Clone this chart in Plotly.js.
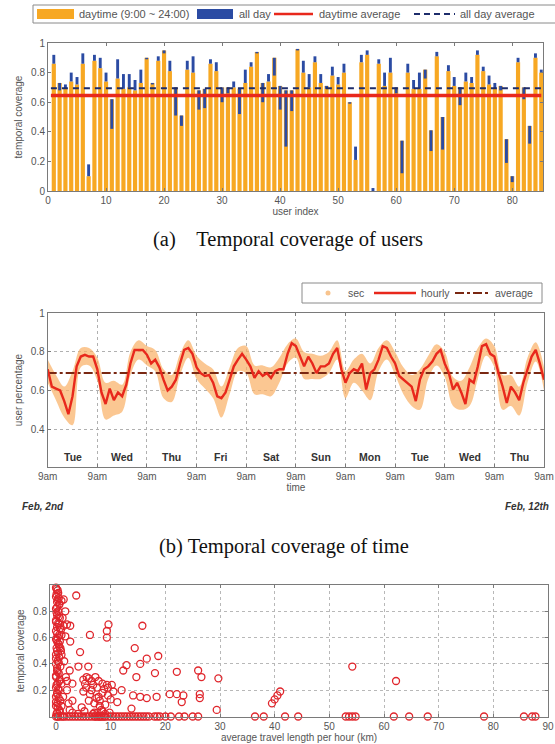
<!DOCTYPE html>
<html>
<head>
<meta charset="utf-8">
<script src="https://cdn.plot.ly/plotly-3.0.1.min.js"></script>
<style>
html,body{margin:0;padding:0;background:#fff;}
#chart{width:555px;height:744px;}
</style>
</head>
<body>
<div id="chart"></div>
<script>
// ---------- (a) temporal coverage of users ----------
const userIndex = [1,2,3,4,5,6,7,8,9,10,11,12,13,14,15,16,17,18,19,20,21,22,23,24,25,26,27,28,29,30,31,32,33,34,35,36,37,38,39,40,41,42,43,44,45,46,47,48,49,50,51,52,53,54,55,56,57,58,59,60,61,62,63,64,65,66,67,68,69,70,71,72,73,74,75,76,77,78,79,80,81,82,83,84,85];
const daytimeCoverage = [0.86,0.73,0.69,0.74,0.72,0.86,0.10,0.88,0.83,0.74,0.62,0.76,0.69,0.70,0.68,0.73,0.90,0.73,0.88,0.95,
  0.81,0.70,0.51,0.82,0.80,0.68,0.69,0.86,0.81,0.70,0.70,0.70,0.69,0.73,0.84,0.94,0.73,0.74,0.90,0.71,
  0.68,0.68,0.96,0.80,0.70,0.87,0.73,0.71,0.78,0.72,0.80,0.60,0.21,0.87,0.92,0.00,0.86,0.71,0.80,0.70,
  0.34,0.80,0.69,0.69,0.82,0.41,0.91,0.50,0.81,0.71,0.70,0.74,0.73,0.92,0.81,0.72,0.69,0.71,0.35,0.10,
  0.87,0.70,0.44,0.90,0.80];
const allDayCoverage = [0.92,0.68,0.72,0.80,0.77,0.93,0.18,0.92,0.90,0.80,0.42,0.89,0.79,0.79,0.75,0.82,0.89,0.72,0.91,0.93,
  0.88,0.51,0.44,0.88,0.91,0.55,0.56,0.89,0.87,0.60,0.66,0.74,0.52,0.82,0.87,0.93,0.60,0.79,0.78,0.55,
  0.30,0.54,0.95,0.88,0.79,0.91,0.79,0.69,0.84,0.77,0.86,0.59,0.30,0.92,0.95,0.02,0.89,0.80,0.90,0.66,
  0.12,0.86,0.75,0.80,0.76,0.27,0.94,0.28,0.85,0.77,0.58,0.80,0.77,0.95,0.84,0.78,0.73,0.68,0.19,0.06,
  0.90,0.62,0.32,0.93,0.82];
const daytimeAverage = 0.645;
const allDayAverage = 0.695;
const userTicks = [0,10,20,30,40,50,60,70,80];

// ---------- (b) temporal coverage of time ----------
const hourlyStep = 2;   // hours between hourly samples listed below
const hourlyCoverage = [
  0.71,0.62,0.61,0.60,0.545,0.477,0.57,0.725,0.776,0.785,0.776,0.776,
  0.71,0.59,0.53,0.61,0.55,0.59,0.57,0.63,0.74,0.81,0.81,0.81,
  0.785,0.74,0.76,0.72,0.656,0.60,0.62,0.656,0.74,0.81,0.82,0.79,
  0.72,0.69,0.675,0.68,0.64,0.57,0.56,0.59,0.656,0.725,0.76,0.79,
  0.76,0.725,0.665,0.70,0.675,0.69,0.665,0.70,0.71,0.71,0.79,0.845,
  0.83,0.775,0.725,0.775,0.74,0.69,0.725,0.725,0.74,0.79,0.82,0.71,
  0.64,0.69,0.71,0.70,0.74,0.605,0.69,0.71,0.76,0.83,0.82,0.776,
  0.74,0.675,0.656,0.64,0.62,0.545,0.656,0.71,0.725,0.75,0.79,0.81,
  0.74,0.69,0.605,0.64,0.59,0.53,0.656,0.64,0.725,0.83,0.84,0.79,
  0.776,0.69,0.62,0.535,0.62,0.59,0.55,0.64,0.71,0.776,0.81,0.74,
  0.656];
const secStep = 4;      // hours between per-second envelope samples
const secHigh = [0.76,0.68,0.62,0.70,0.82,0.82,0.77,0.64,0.65,0.63,0.80,0.86,0.83,0.81,0.71,0.68,0.79,0.86,0.78,0.74,
  0.71,0.62,0.72,0.82,0.83,0.73,0.73,0.72,0.77,0.84,0.87,0.80,0.79,0.78,0.80,0.86,0.70,0.76,0.79,0.74,
  0.82,0.86,0.80,0.72,0.68,0.71,0.78,0.84,0.80,0.67,0.65,0.72,0.82,0.87,0.83,0.68,0.68,0.62,0.77,0.85,0.72];
const secLow = [0.64,0.55,0.46,0.42,0.72,0.73,0.65,0.45,0.47,0.49,0.68,0.76,0.73,0.70,0.56,0.54,0.68,0.77,0.66,0.61,
  0.56,0.46,0.58,0.70,0.69,0.58,0.58,0.57,0.64,0.74,0.77,0.66,0.66,0.66,0.69,0.76,0.56,0.64,0.60,0.55,
  0.70,0.76,0.68,0.58,0.52,0.50,0.66,0.73,0.67,0.52,0.50,0.52,0.66,0.78,0.72,0.50,0.52,0.47,0.64,0.75,0.60];
const timeAverage = 0.69;
const dayNames = ['Tue','Wed','Thu','Fri','Sat','Sun','Mon','Tue','Wed','Thu'];
const timeTicks = [0,24,48,72,96,120,144,168,192,216,240];
const timeTickText = ['9am','9am','9am','9am','9am','9am','9am','9am','9am','9am','9am'];

// ---------- (c) coverage vs travel length ----------
const travelKm = [
  0.0,0.3,0.1,0.5,0.2,0.6,0.0,0.4,0.2,0.7,0.0,0.5,0.2,0.0,0.6,0.3,0.1,0.5,0.2,0.0,0.6,0.3,0.0,0.8,0.2,0.5,0.0,0.7,0.3,0.0,0.5,0.2,0.0,0.8,0.3,0.0,0.6,0.2,0.0,0.4,0.9,1.0,0.9,
  0.1,0.4,0.0,0.3,0.6,0.2,0.1,0.5,0.0,0.4,0.7,0.2,0.0,0.3,0.6,0.1,0.4,0.0,0.5,0.2,0.3,0.0,0.6,0.1,0.4,0.2,0.5,0.0,0.3,0.7,0.1,
  1.2,2.0,1.0,0.8,1.5,2.5,1.8,1.0,2.0,1.3,3.0,1.0,2.5,3.7,1.4,1.7,2.6,1.4,1.7,2.6,0.7,4.4,1.0,4.1,5.9,6.2,9.3,9.6,9.3,15.8,14.4,12.9,12.3,15.4,16.6,18.7,18.1,14.7,22.1,26.0,26.6,29.7,
  5.0,5.6,6.5,7.2,5.5,6.5,7.5,8.5,9.5,9.3,8.5,9.5,7.8,11.2,7.4,14.1,15.4,16.6,18.4,20.8,22.1,23.3,26.3,26.3,23.0,13.8,29.4,2.0,3.0,2.3,4.7,6.0,8.0,10.5,12.0,7.0,8.5,9.0,
  5.3,6.0,6.8,7.8,8.8,6.2,5.0,10.2,7.0,8.0,9.0,10.0,6.8,7.6,8.3,9.8,5.2,4.0,3.0,
  0.8,1.5,2,3,4,5,6,7,7.5,8,8.5,9,10,11,12,13,14,15,16,17,18,19,20,23.5,25,26,36.4,38,41.9,44.3,53,53.6,54.2,54.8,61.8,64.6,68,78.3,85.6,87.1,87.7,
  0.3,1.2,2.5,3.5,4.5,5.5,6.5,7.2,7.8,8.2,8.8,9.5,10.5,11.5,12.5,13.5,14.5,15.5,16.5,18.5,21,22.5,
  39.5,40,40.5,41,54.2,62.2];
const travelCoverage = [
  0.98,0.96,0.93,0.90,0.87,0.85,0.82,0.80,0.77,0.75,0.72,0.70,0.68,0.65,0.62,0.60,0.58,0.55,0.50,0.47,0.45,0.42,0.40,0.38,0.35,0.33,0.30,0.28,0.25,0.22,0.20,0.18,0.15,0.12,0.10,0.08,0.05,0.03,0.00,0.00,0.50,0.88,0.66,
  0.97,0.94,0.91,0.89,0.86,0.83,0.79,0.76,0.73,0.71,0.67,0.63,0.59,0.56,0.53,0.52,0.48,0.44,0.41,0.37,0.34,0.31,0.27,0.24,0.21,0.17,0.14,0.11,0.07,0.04,0.02,
  0.75,0.70,0.62,0.52,0.42,0.35,0.30,0.25,0.20,0.15,0.12,0.08,0.05,0.92,0.89,0.80,0.69,0.69,0.61,0.57,0.57,0.49,0.47,0.38,0.38,0.62,0.65,0.70,0.60,0.69,0.52,0.39,0.35,0.40,0.44,0.46,0.33,0.30,0.34,0.35,0.30,0.29,
  0.28,0.30,0.27,0.30,0.22,0.20,0.22,0.25,0.22,0.24,0.18,0.16,0.15,0.11,0.14,0.16,0.15,0.14,0.15,0.17,0.17,0.16,0.17,0.14,0.11,0.06,0.05,0.27,0.25,0.10,0.07,0.12,0.08,0.19,0.20,0.03,0.04,0.02,
  0.25,0.29,0.24,0.27,0.21,0.17,0.19,0.24,0.10,0.12,0.09,0.13,0.02,0.03,0.05,0.03,0.04,0.02,0.03,
  0,0,0,0,0,0,0,0,0,0,0,0,0,0,0,0,0,0,0,0,0,0,0,0,0,0,0,0,0,0,0,0,0,0,0,0,0,0,0,0,0,
  0,0,0,0,0,0,0,0,0,0,0,0,0,0,0,0,0,0,0,0,0,0,
  0.10,0.13,0.16,0.19,0.38,0.27];
const travelTicks = [0,10,20,30,40,50,60,70,80,90];

// ---------- helpers ----------
const W = 555, H = 744;
const px = x => x / W;
const py = y => 1 - y / H;
const ORANGE = '#f7a823', BLUE = '#2b4ba3', RED = '#e8281c', NAVY = '#1d2c6b';
const FAM = 'Liberation Sans, Arial, sans-serif';
const SMALL = {family: FAM, size: 10, color: '#555'};

const hours = hourlyCoverage.map((_, i) => i * hourlyStep);
const secHours = secHigh.map((_, i) => i * secStep);
const blueSpan = allDayCoverage.map((v, i) => v - daytimeCoverage[i]);

const traces = [
  {type: 'bar', x: userIndex, y: daytimeCoverage, width: 0.72, marker: {color: ORANGE}, xaxis: 'x', yaxis: 'y', showlegend: false, hoverinfo: 'skip'},
  {type: 'bar', x: userIndex, y: blueSpan, base: daytimeCoverage, width: 0.5, marker: {color: BLUE}, xaxis: 'x', yaxis: 'y', showlegend: false, hoverinfo: 'skip'},
  {type: 'scatter', mode: 'lines', x: [0.5, 85], y: [daytimeAverage, daytimeAverage], line: {color: RED, width: 3.5}, xaxis: 'x', yaxis: 'y', showlegend: false},
  {type: 'scatter', mode: 'lines', x: [0.5, 85], y: [allDayAverage, allDayAverage], line: {color: NAVY, width: 2, dash: '6px,5px'}, xaxis: 'x', yaxis: 'y', showlegend: false},

  {type: 'scatter', mode: 'lines', x: secHours, y: secLow, line: {color: 'rgba(0,0,0,0)', width: 0, shape: 'spline'}, xaxis: 'x2', yaxis: 'y2', showlegend: false, hoverinfo: 'skip'},
  {type: 'scatter', mode: 'lines', x: secHours, y: secHigh, fill: 'tonexty', fillcolor: 'rgba(249,178,104,0.72)', line: {color: 'rgba(0,0,0,0)', width: 0, shape: 'spline'}, xaxis: 'x2', yaxis: 'y2', showlegend: false},
  {type: 'scatter', mode: 'lines', x: [0, 240], y: [timeAverage, timeAverage], line: {color: '#7a2812', width: 2, dash: 'dashdot'}, xaxis: 'x2', yaxis: 'y2', showlegend: false},
  {type: 'scatter', mode: 'lines', x: hours, y: hourlyCoverage, line: {color: RED, width: 2.4}, xaxis: 'x2', yaxis: 'y2', showlegend: false},

  {type: 'scatter', mode: 'markers', x: travelKm, y: travelCoverage, marker: {symbol: 'circle-open', size: 7, color: '#e0262c', line: {width: 1.3, color: '#e0262c'}}, xaxis: 'x3', yaxis: 'y3', showlegend: false, cliponaxis: false}
];

const axisBase = {
  showline: true, linecolor: '#7a7a7a', linewidth: 1, mirror: 'ticks', ticks: 'inside', ticklen: 3,
  tickcolor: '#7a7a7a', zeroline: false, tickfont: SMALL, fixedrange: true
};

const layout = {
  width: W, height: H,
  margin: {l: 0, r: 0, t: 0, b: 0},
  paper_bgcolor: '#fff', plot_bgcolor: '#fff',
  barmode: 'overlay',
  showlegend: false,
  xaxis: Object.assign({}, axisBase, {domain: [px(48), px(543)], range: [0, 85.3], tickvals: userTicks, showgrid: false, anchor: 'y',
    title: {text: 'user index', font: SMALL, standoff: 1}}),
  yaxis: Object.assign({}, axisBase, {domain: [py(191), py(43)], range: [0, 1], tickvals: [0,0.2,0.4,0.6,0.8,1], ticktext: ['0','0.2','0.4','0.6','0.8','1'], showgrid: false, anchor: 'x',
    title: {text: 'temporal coverage', font: SMALL, standoff: 6}}),
  xaxis2: Object.assign({}, axisBase, {domain: [px(47.7), px(544)], range: [0, 240], tickvals: timeTicks, ticktext: timeTickText, showgrid: true, gridcolor: '#b0b0b0', griddash: 'dot', anchor: 'y2',
    title: {text: 'time', font: SMALL, standoff: 3}}),
  yaxis2: Object.assign({}, axisBase, {domain: [py(466.7), py(313.3)], range: [0.205, 1], tickvals: [0.4,0.6,0.8,1], ticktext: ['0.4','0.6','0.8','1'], showgrid: true, gridcolor: '#b0b0b0', griddash: 'dot', anchor: 'x2',
    title: {text: 'user percentage', font: SMALL, standoff: 6}}),
  xaxis3: Object.assign({}, axisBase, {domain: [px(50), px(548)], range: [-1.1, 90], tickvals: travelTicks, showgrid: true, gridcolor: '#b8b8b8', griddash: 'dot', anchor: 'y3',
    title: {text: 'average travel length per hour (km)', font: SMALL, standoff: 0}}),
  yaxis3: Object.assign({}, axisBase, {domain: [py(716.5), py(585)], range: [0, 1], tickvals: [0.2,0.4,0.6,0.8], ticktext: ['0.2','0.4','0.6','0.8'], showgrid: true, gridcolor: '#b8b8b8', griddash: 'dot', anchor: 'x3',
    title: {text: 'temporal coverage', font: SMALL, standoff: 6}}),
  shapes: [],
  annotations: []
};

// Legend (a), drawn in paper space
const L = layout.shapes, A = layout.annotations;
const LEG = {family: FAM, size: 11, color: '#555'};
L.push({type: 'rect', xref: 'paper', yref: 'paper', x0: px(33), x1: px(560), y0: py(23), y1: py(5), line: {color: '#8a8a8a', width: 1}, fillcolor: '#fff', layer: 'above'});
L.push({type: 'rect', xref: 'paper', yref: 'paper', x0: px(37), x1: px(74), y0: py(19), y1: py(9), line: {width: 0}, fillcolor: ORANGE, layer: 'above'});
L.push({type: 'rect', xref: 'paper', yref: 'paper', x0: px(197), x1: px(233), y0: py(19), y1: py(9), line: {width: 0}, fillcolor: BLUE, layer: 'above'});
L.push({type: 'line', xref: 'paper', yref: 'paper', x0: px(274), x1: px(313), y0: py(14), y1: py(14), line: {color: RED, width: 2.5}, layer: 'above'});
L.push({type: 'line', xref: 'paper', yref: 'paper', x0: px(414), x1: px(455), y0: py(14), y1: py(14), line: {color: NAVY, width: 2.2, dash: '6px,4px'}, layer: 'above'});
[['daytime (9:00 ~ 24:00)', 77], ['all day', 237], ['daytime average', 317], ['all day average', 458]].forEach(([t, x]) =>
  A.push({text: t, xref: 'paper', yref: 'paper', x: px(x), y: py(14), xanchor: 'left', yanchor: 'middle', showarrow: false, font: LEG}));

// Legend (b)
L.push({type: 'rect', xref: 'paper', yref: 'paper', x0: px(302), x1: px(542), y0: py(303), y1: py(283), line: {color: '#8a8a8a', width: 1}, fillcolor: '#fff', layer: 'above'});
L.push({type: 'circle', xref: 'paper', yref: 'paper', x0: px(325.5), x1: px(330.5), y0: py(295.5), y1: py(290.5), line: {width: 0}, fillcolor: '#f8c48e', layer: 'above'});
L.push({type: 'line', xref: 'paper', yref: 'paper', x0: px(374), x1: px(416), y0: py(293), y1: py(293), line: {color: RED, width: 2.5}, layer: 'above'});
L.push({type: 'line', xref: 'paper', yref: 'paper', x0: px(455), x1: px(490), y0: py(293), y1: py(293), line: {color: '#7a2812', width: 2, dash: 'dashdot'}, layer: 'above'});
[['sec', 346], ['hourly', 419], ['average', 493]].forEach(([t, x]) =>
  A.push({text: t, xref: 'paper', yref: 'paper', x: px(x), y: py(293), xanchor: 'left', yanchor: 'middle', showarrow: false, font: {family: FAM, size: 10.5, color: '#555'}}));

// Day names inside panel (b)
dayNames.forEach((d, i) => A.push({text: '<b>' + d + '</b>', xref: 'x2', yref: 'y2', x: 12 + 24 * i, y: 0.255, showarrow: false, xanchor: 'center', yanchor: 'middle', font: {family: FAM, size: 10.5, color: '#333'}}));

// Date notes
A.push({text: '<b><i>Feb, 2nd</i></b>', xref: 'paper', yref: 'paper', x: px(20), y: py(507), xanchor: 'left', yanchor: 'middle', showarrow: false, font: {family: FAM, size: 10, color: '#333'}});
A.push({text: '<b><i>Feb, 12th</i></b>', xref: 'paper', yref: 'paper', x: px(503), y: py(507), xanchor: 'left', yanchor: 'middle', showarrow: false, font: {family: FAM, size: 10, color: '#333'}});

// Captions
const CAP = {family: 'Liberation Serif, Times New Roman, serif', size: 20.5, color: '#111'};
A.push({text: '(a)&nbsp;&nbsp;&nbsp;&nbsp;Temporal coverage of users', xref: 'paper', yref: 'paper', x: px(288), y: py(240), xanchor: 'center', yanchor: 'middle', showarrow: false, font: CAP});
A.push({text: '(b) Temporal coverage of time', xref: 'paper', yref: 'paper', x: px(284), y: py(546), xanchor: 'center', yanchor: 'middle', showarrow: false, font: CAP});

Plotly.newPlot('chart', traces, layout, {staticPlot: true, displayModeBar: false});
</script>
</body>
</html>
